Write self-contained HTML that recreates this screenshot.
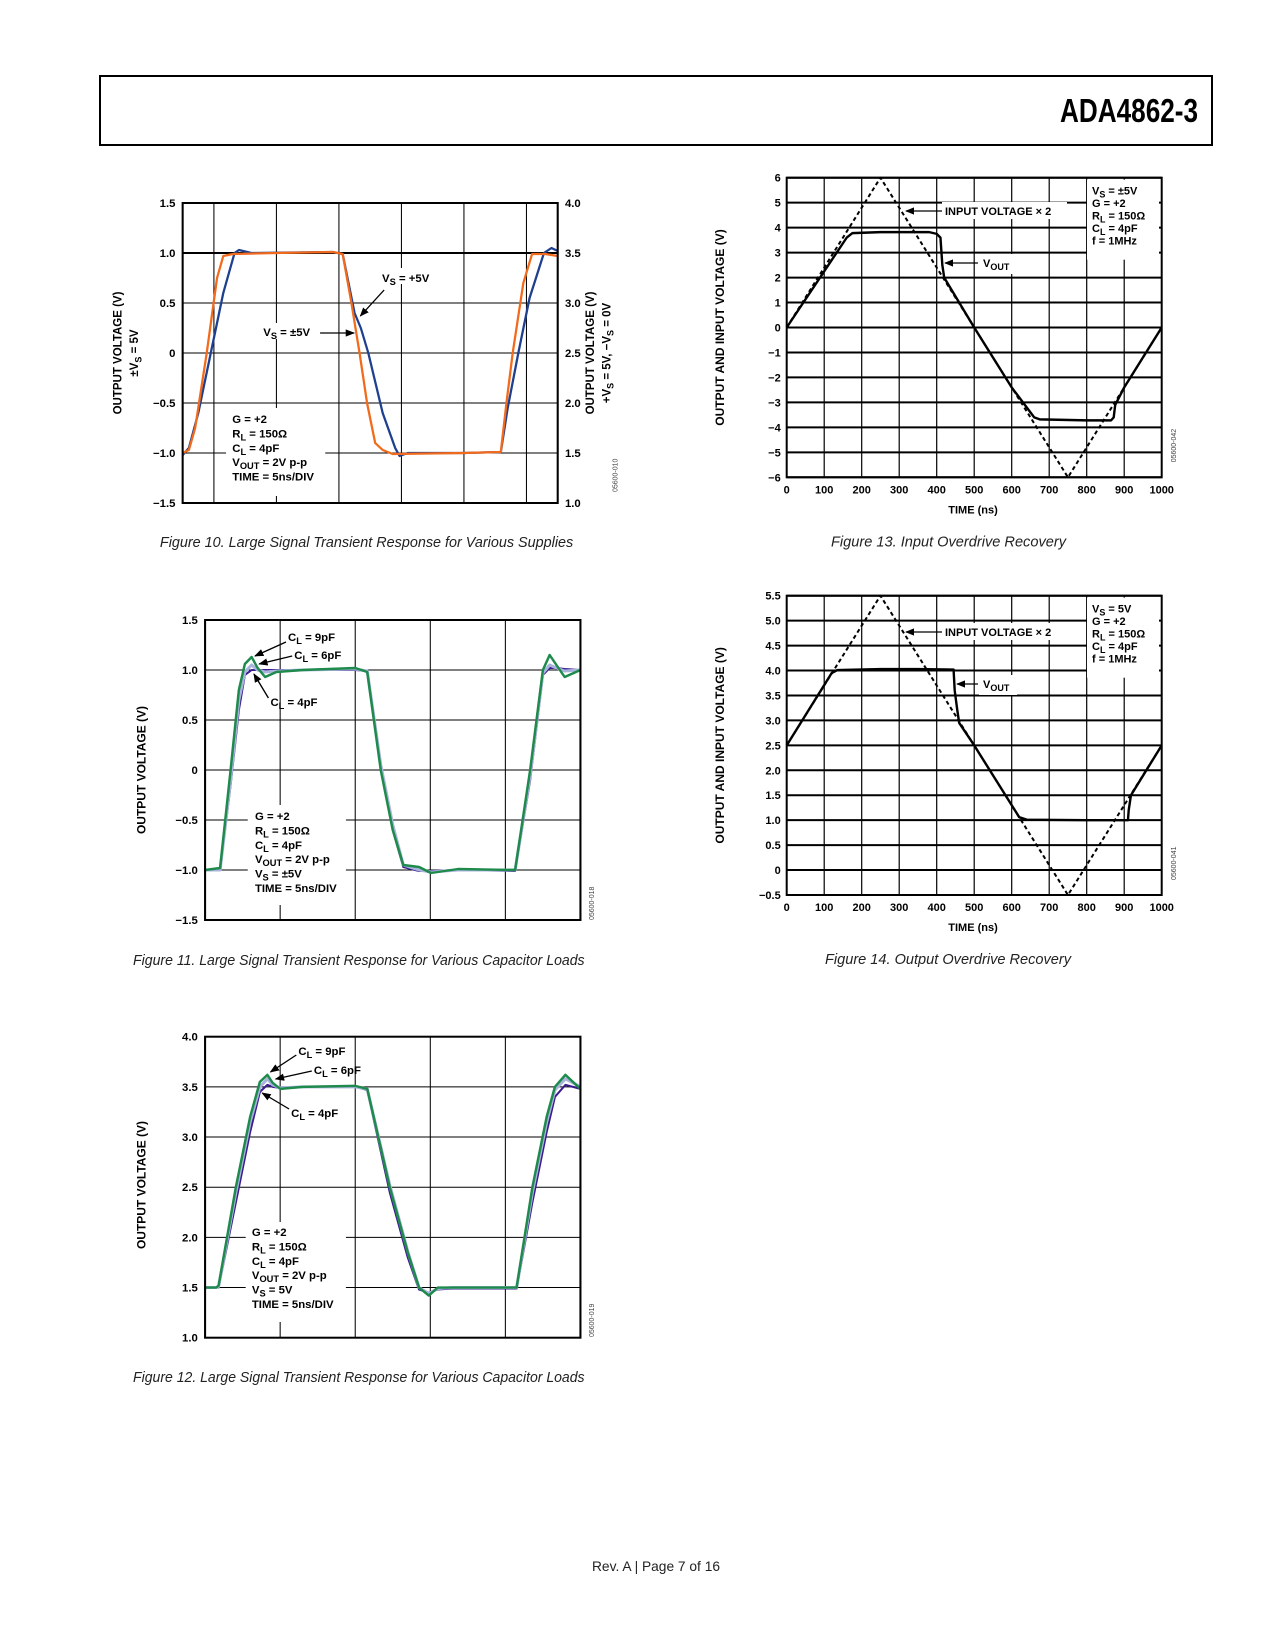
<!DOCTYPE html>
<html><head><meta charset="utf-8"><style>
html,body{margin:0;padding:0;background:#fff}
svg{display:block;font-family:"Liberation Sans",Arial,sans-serif}
.t{font-weight:bold;font-size:11px;fill:#000}
.cap{font-style:italic;font-size:15px;fill:#222}
.code{font-size:7px;fill:#444}
</style></head><body>
<svg id="pg" width="1275" height="1650" viewBox="0 0 1275 1650" xmlns="http://www.w3.org/2000/svg">
<defs><marker id="ah" viewBox="0 0 10 10" refX="9" refY="5" markerWidth="7" markerHeight="7" orient="auto"><path d="M0,1 L10,5 L0,9 z" fill="#000"/></marker></defs>
<rect x="100" y="76" width="1112" height="69" fill="none" stroke="#000" stroke-width="2"/>
<text x="1060" y="122" font-size="33" font-weight="bold" textLength="138" lengthAdjust="spacingAndGlyphs">ADA4862-3</text>
<text x="592" y="1571" font-size="14" fill="#222" textLength="128" lengthAdjust="spacingAndGlyphs">Rev. A | Page 7 of 16</text>
<g transform="translate(100,0) scale(1.0332,1) translate(-100,0)">
<g id="f10"></g>
<g id="f11"></g>
<g id="f12"></g>
</g>
<g id="f13"></g>
<g id="f14"></g>
</svg>
<script>
// ---- Figure 10 data (time in divisions, 5ns/div) ----
const f10OrangeT=[0,0.1,0.2,0.385,0.55,0.65,0.8,1.5,2.4,2.56,2.7,2.83,2.95,3.08,3.2,3.36,4.5,5.09,5.18,5.28,5.45,5.59,5.8,6];
const f10OrangeV=[-1.0,-0.97,-0.75,0,0.75,0.97,0.99,1.0,1.01,0.99,0.5,0,-0.5,-0.9,-0.97,-1.01,-1.0,-0.99,-0.5,0,0.7,0.99,0.99,0.97];
const f10BlueT=[0,0.1,0.25,0.45,0.65,0.83,0.9,1.1,2.4,2.56,2.75,2.85,2.97,3.2,3.4,3.47,3.6,4.5,5.09,5.2,5.37,5.55,5.78,5.9,6];
const f10BlueV=[-1.02,-0.95,-0.6,0,0.6,1.0,1.03,1.0,1.01,0.99,0.4,0.25,0,-0.6,-0.95,-1.03,-1.0,-1.0,-0.99,-0.55,0,0.55,1.0,1.05,1.02];
const f10YTicks=[1.5,1.0,0.5,0,-0.5,-1.0,-1.5];
const f10YLabels=["1.5","1.0","0.5","0","\u22120.5","\u22121.0","\u22121.5"];
const f10Y2Labels=["4.0","3.5","3.0","2.5","2.0","1.5","1.0"];
// ---- Figure 11 data ----
const f11T=[0,0.2,0.34,0.45,0.53,0.62,0.7,0.8,0.95,1.3,2.0,2.16,2.34,2.5,2.64,2.85,3.01,3.37,4.13,4.33,4.5,4.59,4.68,4.79,5];
const f11Green=[-1.0,-0.98,0,0.8,1.06,1.13,1.02,0.93,0.98,1.0,1.02,0.98,0,-0.6,-0.95,-0.97,-1.03,-0.99,-1.0,0,1.0,1.15,1.05,0.93,1.0];
const f11Light=[-1.0,-1.0,-0.1,0.7,0.98,1.05,1.0,0.98,0.99,1.0,1.01,0.99,0.05,-0.55,-0.95,-1.0,-1.02,-1.0,-1.0,-0.05,0.97,1.05,1.02,0.99,1.0];
const f11Purple=[-1.0,-1.0,-0.15,0.6,0.95,1.0,1.0,1.0,1.0,1.0,1.0,0.99,0.02,-0.6,-0.97,-1.01,-1.01,-1.0,-1.01,-0.1,0.95,1.02,1.02,1.01,1.0];
// ---- Figure 12 data ----
const f12T=[0,0.15,0.18,0.41,0.6,0.73,0.83,0.9,1.0,1.3,2.0,2.16,2.46,2.7,2.85,2.98,3.1,3.3,4.15,4.36,4.55,4.66,4.8,5];
const f12Green=[1.5,1.5,1.52,2.5,3.2,3.55,3.62,3.54,3.48,3.5,3.51,3.48,2.5,1.85,1.5,1.42,1.5,1.5,1.5,2.5,3.2,3.5,3.62,3.48];
const f12Light=[1.5,1.5,1.51,2.45,3.15,3.5,3.58,3.52,3.49,3.5,3.5,3.48,2.52,1.86,1.5,1.44,1.49,1.5,1.5,2.45,3.15,3.47,3.58,3.5];
const f12Purple=[1.5,1.5,1.5,2.35,3.05,3.45,3.52,3.5,3.49,3.5,3.5,3.47,2.45,1.8,1.48,1.45,1.48,1.49,1.49,2.35,3.05,3.4,3.52,3.48];
const f11YTicks=[1.5,1.0,0.5,0,-0.5,-1.0,-1.5];
const f12YTicks=[4.0,3.5,3.0,2.5,2.0,1.5,1.0];
// ---- Figure 13 data ----
const f13InT=[0,250,750,1000];
const f13InV=[0,6,-6,0];
const f13OutT=[0,160,175,250,380,400,410,415,420,500,600,660,675,800,865,872,876,900,1000];
const f13OutV=[0,3.6,3.78,3.82,3.82,3.75,3.6,2.5,2.0,0,-2.4,-3.6,-3.68,-3.72,-3.72,-3.6,-3.1,-2.4,0];
const f13YTicks=[6,5,4,3,2,1,0,-1,-2,-3,-4,-5,-6];
const xTicks=[0,100,200,300,400,500,600,700,800,900,1000];
// ---- Figure 14 data ----
const f14InT=[0,250,750,1000];
const f14InV=[2.5,5.5,-0.5,2.5];
const f14OutT=[0,120,135,250,350,445,448,455,460,500,620,640,800,910,912,918,1000];
const f14OutV=[2.5,3.95,4.01,4.03,4.03,4.02,3.6,3.2,2.95,2.5,1.06,1.01,1.0,1.0,1.2,1.5,2.5];
const f14YTicks=[5.5,5.0,4.5,4.0,3.5,3.0,2.5,2.0,1.5,1.0,0.5,0,-0.5];

const NS="http://www.w3.org/2000/svg";
function lin(d0,d1,r0,r1){return v=>r0+(v-d0)/(d1-d0)*(r1-r0);}
function el(g,tag,attrs){const e=document.createElementNS(NS,tag);for(const k in attrs)e.setAttribute(k,attrs[k]);g.appendChild(e);return e;}
function txt(g,x,y,s,cls,anchor){const e=el(g,'text',{x:x,y:y,class:cls||'t'});if(anchor)e.setAttribute('text-anchor',anchor);e.textContent=s;return e;}
function fmt(v){return (v<0?'\u2212':'')+Math.abs(v).toFixed(1);}
function line(g,xs,ys,sx,sy,stroke,w,dash){
  const d=xs.map((t,i)=>(i?'L':'M')+sx(t).toFixed(2)+','+sy(ys[i]).toFixed(2)).join('');
  const p=el(g,'path',{d:d,fill:'none',stroke:stroke,'stroke-width':w,'stroke-linejoin':'round'});
  if(dash)p.setAttribute('stroke-dasharray',dash);return p;}
function rotText(g,x,y,s,size){const e=el(g,'text',{x:0,y:0,transform:'translate('+x+','+y+') rotate(-90)','text-anchor':'middle','font-weight':'bold','font-size':size||12});e.textContent=s;return e;}
function arrow(g,x1,y1,x2,y2){return el(g,'line',{x1:x1,y1:y1,x2:x2,y2:y2,stroke:'#000','stroke-width':1.3,'marker-end':'url(#ah)'});}
function subText(g,x,y,pre,sub,post){const e=el(g,'text',{x:x,y:y,class:'t'});e.appendChild(document.createTextNode(pre));
  const s=document.createElementNS(NS,'tspan');s.setAttribute('dy','3');s.setAttribute('font-size','9');s.textContent=sub;e.appendChild(s);
  const p=document.createElementNS(NS,'tspan');p.setAttribute('dy','-3');p.textContent=post;e.appendChild(p);return e;}
function subTextRot(g,x,y){const parts=[].slice.call(arguments,3);
 const e=el(g,'text',{x:0,y:0,transform:'translate('+x+','+y+') rotate(-90)','text-anchor':'middle','font-weight':'bold','font-size':11.5});
 parts.forEach((s,i)=>{const t=document.createElementNS(NS,'tspan');if(i%2===1){t.setAttribute('font-size','9');t.setAttribute('dy','3');}else if(i>0){t.setAttribute('dy','-3');}t.textContent=s;e.appendChild(t);});
 return e;}

function transFrame(g,L,R,T,B,ndiv,gridDivs,yT,sy,labels){
  const sx=lin(0,ndiv,L,R);
  yT.forEach(v=>{const y=sy(v);const gl=el(g,'line',{x1:L,x2:R,y1:y,y2:y,stroke:'#000','stroke-width':1});
    });
  gridDivs.forEach(d=>{const x=sx(d);const gl=el(g,'line',{x1:x,x2:x,y1:T,y2:B,stroke:'#000','stroke-width':1});
    });
  yT.forEach((v,i)=>{const t=txt(g,L-7,sy(v)+4,labels[i],'t','end');});
  return sx;}
function frameBorder(g,L,R,T,B){const r=el(g,'rect',{x:L,y:T,width:R-L,height:B-T,fill:'none',stroke:'#000','stroke-width':2});
  }
function legend(g,x,y,lines){lines.forEach((ln,i)=>{const yy=y+i*14.4;
  const t=ln.length===3?subText(g,x,yy,ln[0],ln[1],ln[2]):txt(g,x,yy,ln[0]);
  });}

// Figure 10
(function(){const g=document.getElementById('f10');const L=180,R=543,T=203,B=503;
 const sy=lin(1.5,-1.5,T,B);
 const sx=transFrame(g,L,R,T,B,6,[0.5,1.5,2.5,3.5,4.5,5.5],f10YTicks,sy,f10YLabels);
 el(g,'line',{x1:L,x2:R,y1:sy(1),y2:sy(1),stroke:'#000','stroke-width':2});
 f10YTicks.forEach((v,i)=>{const t=txt(g,R+7,sy(v)+4,f10Y2Labels[i]);});
 el(g,'rect',{x:222,y:408,width:96,height:88,fill:'#fff'});
 let p=line(g,f10BlueT,f10BlueV,sx,sy,'#1f3f8f',2.2);
 p=line(g,f10OrangeT,f10OrangeV,sx,sy,'#f26a1b',2.2);
 frameBorder(g,L,R,T,B);
 legend(g,228,423,[["G = +2"],["R","L"," = 150\u03a9"],["C","L"," = 4pF"],["V","OUT"," = 2V p-p"],["TIME = 5ns/DIV"]]);
 el(g,'rect',{x:370,y:268,width:60,height:16,fill:'#fff'});
 subText(g,373,282,"V","S"," = +5V");
 arrow(g,375,290,352,316);
 el(g,'rect',{x:255,y:323,width:60,height:16,fill:'#fff'});
 subText(g,258,336,"V","S"," = \u00b15V");
 arrow(g,313,333,346,333);
 rotText(g,121,353,"OUTPUT VOLTAGE (V)",11.5);
 subTextRot(g,137,353,"\u00b1V","S"," = 5V");
 rotText(g,578,353,"OUTPUT VOLTAGE (V)",11.5);
 subTextRot(g,594,353,"+V","S"," = 5V, \u2212V","S"," = 0V");
 const c=el(g,'text',{x:0,y:0,class:'code',transform:'translate(601,492) rotate(-90)'});c.textContent='05600-010';
 const cap=el(g,'text',{x:158,y:547,class:'cap',textLength:400,lengthAdjust:'spacingAndGlyphs'});cap.textContent='Figure 10. Large Signal Transient Response for Various Supplies';
 
})();

(function(){const T=620,B=920;const sy=lin(1.5,-1.5,T,B);
 const g=document.getElementById('f11');const L=201.7,R=565;
 const sx=transFrame(g,L,R,T,B,5,[1,2,3,4],f11YTicks,sy,f11YTicks.map(v=>v===0?'0':fmt(v)));
 el(g,'rect',{x:243,y:805,width:95,height:100,fill:'#fff'});
 let p=line(g,f11T,f11Purple,sx,sy,'#3a1c8f',2);
 p=line(g,f11T,f11Light,sx,sy,'#a9b4dc',3);
 p=line(g,f11T,f11Green,sx,sy,'#1e8a4c',2.4);
 frameBorder(g,L,R,T,B);
 legend(g,250,820,[["G = +2"],["R","L"," = 150\u03a9"],["C","L"," = 4pF"],["V","OUT"," = 2V p-p"],["V","S"," = \u00b15V"],["TIME = 5ns/DIV"]]);
 subText(g,282,641,"C","L"," = 9pF");arrow(g,280,642,250,656);
 subText(g,288,659,"C","L"," = 6pF");arrow(g,286,656,254,664);
 subText(g,265,706,"C","L"," = 4pF");arrow(g,263,698,249,674);
 rotText(g,144,770,"OUTPUT VOLTAGE (V)",12);
 const c=el(g,'text',{x:0,y:0,class:'code',transform:'translate(578,920) rotate(-90)'});c.textContent='05600-018';
 const cap=el(g,'text',{x:132,y:965,class:'cap',textLength:437,lengthAdjust:'spacingAndGlyphs'});cap.textContent='Figure 11. Large Signal Transient Response for Various Capacitor Loads';
 
})();
(function(){const T=1036.7,B=1337.7;const sy=lin(4.0,1.0,T,B);
 const g=document.getElementById('f12');const L=201.7,R=565;
 const sx=transFrame(g,L,R,T,B,5,[1,2,3,4],f12YTicks,sy,f12YTicks.map(v=>v.toFixed(1)));
 el(g,'rect',{x:241,y:1222,width:97,height:100,fill:'#fff'});
 let p=line(g,f12T,f12Purple,sx,sy,'#3a1c8f',2);
 p=line(g,f12T,f12Light,sx,sy,'#a9b4dc',3);
 p=line(g,f12T,f12Green,sx,sy,'#1e8a4c',2.4);
 frameBorder(g,L,R,T,B);
 legend(g,247,1236,[["G = +2"],["R","L"," = 150\u03a9"],["C","L"," = 4pF"],["V","OUT"," = 2V p-p"],["V","S"," = 5V"],["TIME = 5ns/DIV"]]);
 subText(g,292,1055,"C","L"," = 9pF");arrow(g,290,1055,265,1072);
 subText(g,307,1074,"C","L"," = 6pF");arrow(g,305,1071,270,1079);
 subText(g,285,1117,"C","L"," = 4pF");arrow(g,283,1109,257,1093);
 rotText(g,144,1185,"OUTPUT VOLTAGE (V)",12);
 const c=el(g,'text',{x:0,y:0,class:'code',transform:'translate(578,1337) rotate(-90)'});c.textContent='05600-019';
 const cap=el(g,'text',{x:132,y:1382,class:'cap',textLength:437,lengthAdjust:'spacingAndGlyphs'});cap.textContent='Figure 12. Large Signal Transient Response for Various Capacitor Loads';
 
})();

function overdrive(id,T,B,yT,ylab,inT,inV,outT,outV,legLines,code,capText,capX,capW,inLabY,outLabY,outArrowX){
 const g=document.getElementById(id);const L=786.7,R=1161.7;
 const sx=lin(0,1000,L,R);const sy=lin(yT[0],yT[yT.length-1],T,B);
 yT.forEach((v,i)=>{const y=sy(v);const gl=el(g,'line',{x1:L,x2:R,y1:y,y2:y,stroke:'#000','stroke-width':2});
  
  const t=txt(g,L-6,y+4,ylab[i],'t','end');});
 xTicks.forEach(v=>{const x=sx(v);const gl=el(g,'line',{x1:x,x2:x,y1:T,y2:B,stroke:'#000','stroke-width':1.2});
  
  const t=txt(g,x,B+16,String(v),'t','middle');});
 el(g,'rect',{x:1087,y:T+2,width:72,height:80,fill:'#fff'});
 el(g,'rect',{x:942,y:inLabY-13,width:125,height:17,fill:'#fff'});
 el(g,'rect',{x:979,y:outLabY-13,width:38,height:20,fill:'#fff'});
 let p=line(g,inT,inV,sx,sy,'#000',2,'4,3');
 p=line(g,outT,outV,sx,sy,'#000',2.4);
 frameBorder(g,L,R,T,B);
 legLines.forEach((ln,i)=>{const y=T+17+i*12.5;const t=ln.length===3?subText(g,1092,y,ln[0],ln[1],ln[2]):txt(g,1092,y,ln[0]);
  });
 const il=el(g,'text',{x:945,y:inLabY,class:'t'});il.textContent='INPUT VOLTAGE \u00d7 2';
 arrow(g,942,inLabY-4,906,inLabY-4);
 subText(g,983,outLabY,"V","OUT","");
 arrow(g,978,outLabY-4,outArrowX,outLabY-4);
 const xt=txt(g,973,B+36,'TIME (ns)','t','middle');xt.setAttribute('font-size','12');
 rotText(g,724,(T+B)/2,"OUTPUT AND INPUT VOLTAGE (V)",12);
 const c=el(g,'text',{x:0,y:0,class:'code',transform:'translate(1176,'+(B-15)+') rotate(-90)'});c.textContent=code;
 const cap=el(g,'text',{x:capX,y:B+69,class:'cap',textLength:capW,lengthAdjust:'spacingAndGlyphs'});cap.textContent=capText;
 }
overdrive('f13',177.7,477.3,f13YTicks,f13YTicks.map(v=>(v<0?'\u2212':'')+Math.abs(v)),f13InT,f13InV,f13OutT,f13OutV,
 [["V","S"," = \u00b15V"],["G = +2"],["R","L"," = 150\u03a9"],["C","L"," = 4pF"],["f = 1MHz"]],'05600-042','Figure 13. Input Overdrive Recovery',831,235,215,267,945);
overdrive('f14',595.7,895,f14YTicks,f14YTicks.map(v=>v===0?'0':fmt(v)),f14InT,f14InV,f14OutT,f14OutV,
 [["V","S"," = 5V"],["G = +2"],["R","L"," = 150\u03a9"],["C","L"," = 4pF"],["f = 1MHz"]],'05600-041','Figure 14. Output Overdrive Recovery',825,246,636,688,957);
</script>
</body></html>
